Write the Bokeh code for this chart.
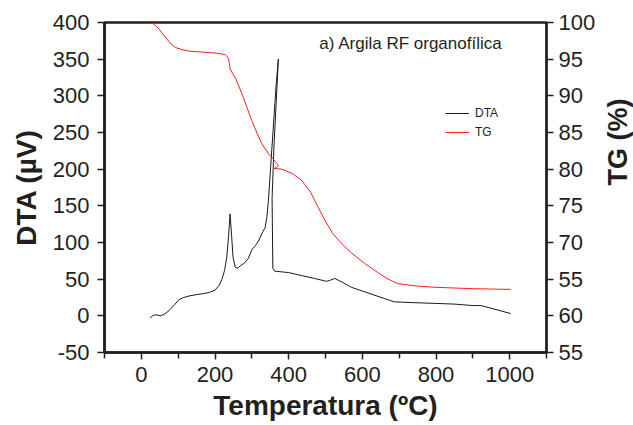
import math
from bokeh.plotting import figure
from bokeh.layouts import row
from bokeh.models import (Range1d, LinearAxis, FixedTicker, Label, Legend, LegendItem)
from bokeh.embed import file_html
from bokeh.resources import INLINE

# DTA curve (temperature in °C, signal in µV)
dta_temp = [24, 32, 39, 52, 62, 75, 90, 102, 115, 129, 150, 165, 185, 200, 212, 219,
            226, 232, 237, 241, 245, 249, 255, 262, 268, 280, 290, 300, 310, 318, 330,
            336, 341, 345, 352, 360, 366, 372, 366, 360, 355, 357, 362, 380, 400, 435,
            470, 503, 515, 525, 545, 570, 605, 640, 687, 740, 795, 850, 900, 922, 960, 1003]
dta_uv = [-2.7, 0.5, 1.5, 0, 2, 7, 15, 22, 25, 27, 29, 30, 32, 35, 42, 50,
          62, 80, 110, 139, 110, 80, 66, 65, 68, 72, 78, 90, 96, 102, 115,
          120, 135, 157, 210, 270, 315, 350, 290, 230, 160, 65, 61, 60, 59, 55,
          51, 47, 49, 51, 46, 39, 33, 27, 19, 18, 17, 16, 14, 14, 9, 3]

# TG curve (temperature in °C, mass in %)
tg_temp = [28, 45, 65, 80, 92, 110, 129, 183, 210, 228, 234, 237, 241, 248, 255, 273,
           300, 315, 327, 345, 358, 366, 372, 368, 360, 381, 410, 435, 460, 480, 500,
           520, 545, 570, 605, 642, 670, 696, 740, 795, 900, 1003]
tg_pct = [100, 99.3, 98.0, 97.1, 96.6, 96.3, 96.1, 95.9, 95.8, 95.6, 95.3, 95.0, 93.7, 93.0, 92.5, 90.3,
          86.6, 84.8, 83.5, 82.1, 81.4, 80.9, 80.5, 80.2, 80.1, 80.0, 79.4, 78.5, 76.8, 74.8, 72.9,
          71.2, 69.8, 68.6, 67.2, 65.9, 65.0, 64.4, 64.1, 63.9, 63.7, 63.6]

x_major = [0, 200, 400, 600, 800, 1000]
x_minor = [-100, 100, 300, 500, 700, 900, 1100]
left_ticks = [-50, 0, 50, 100, 150, 200, 250, 300, 350, 400]
left_overrides = {-50: "-50"}
right_ticks = [55, 60, 65, 70, 75, 80, 85, 90, 95, 100]
right_overrides = {65: "55"}

FONT = "Liberation Sans"
INK = "#231f20"

fig = figure(width=599, height=425, output_backend="svg", toolbar_location=None,
             x_range=Range1d(-100, 1100), y_range=Range1d(-50, 400),
             min_border_left=104, min_border_right=53, min_border_top=22, min_border_bottom=73)
fig.extra_y_ranges = {"tg": Range1d(55, 100)}
fig.grid.visible = False
fig.outline_line_color = INK
fig.outline_line_width = 2.5
fig.background_fill_color = "white"
fig.border_fill_color = "white"

def style_axis(ax, standoff, lw):
    ax.axis_line_color = INK
    ax.axis_line_width = lw
    ax.major_tick_line_color = INK
    ax.major_tick_line_width = 1.5
    ax.minor_tick_line_color = INK
    ax.minor_tick_line_width = 1.5
    ax.major_tick_out = 7
    ax.major_tick_in = 0
    ax.minor_tick_out = 6
    ax.minor_tick_in = 0
    ax.major_label_text_font = FONT
    ax.major_label_text_font_size = "22px"
    ax.major_label_text_color = INK
    ax.major_label_standoff = standoff
    ax.axis_label_text_font = FONT
    ax.axis_label_text_font_size = "28px"
    ax.axis_label_text_font_style = "bold"
    ax.axis_label_text_color = INK

xa = fig.xaxis[0]
xa.ticker = FixedTicker(ticks=x_major, minor_ticks=x_minor)
xa.axis_label = "Temperatura (ºC)"
style_axis(xa, 7, 2.5)
xa.axis_label_standoff = 5

ya = fig.yaxis[0]
ya.ticker = FixedTicker(ticks=left_ticks, minor_ticks=[])
ya.major_label_overrides = left_overrides
ya.axis_label = "DTA (µV)"
style_axis(ya, 8, 2.5)
ya.axis_label_standoff = 8

yr = LinearAxis(y_range_name="tg", ticker=FixedTicker(ticks=right_ticks, minor_ticks=[]),
                major_label_overrides=right_overrides)
style_axis(yr, 5, 2)
fig.add_layout(yr, "right")

r_dta = fig.line(dta_temp, dta_uv, line_color="#1a1a1a", line_width=1)
r_tg = fig.line(tg_temp, tg_pct, y_range_name="tg", line_color="#ff1a1a", line_width=1)

title = Label(x=732, y=372, text="a) Argila RF organofílica", text_font=FONT,
              text_font_size="17px", text_color=INK, text_align="center",
              text_baseline="middle")
fig.add_layout(title)

legend = Legend(items=[LegendItem(label="DTA", renderers=[r_dta]),
                       LegendItem(label="TG", renderers=[r_tg])],
                location=(341, 212), padding=0, margin=0, spacing=3,
                glyph_width=24, glyph_height=16, label_height=16, label_standoff=6,
                label_text_font=FONT, label_text_font_size="12px", label_text_color=INK,
                border_line_color=None, background_fill_alpha=0)
fig.add_layout(legend)

# narrow strip holding the right-axis title, reading bottom-to-top
side = figure(width=34, height=425, output_backend="svg", toolbar_location=None,
              x_range=Range1d(0, 34), y_range=Range1d(0, 425),
              min_border=0, min_border_left=0, min_border_right=0,
              min_border_top=0, min_border_bottom=0)
side.axis.visible = False
side.grid.visible = False
side.outline_line_color = None
side.background_fill_color = "white"
side.border_fill_color = "white"
tg_title = Label(x=18, y=425 - 154, text="TG (%)", angle=90, angle_units="deg",
                 text_font=FONT, text_font_size="27px", text_font_style="bold",
                 text_color=INK, text_align="center", text_baseline="middle")
side.add_layout(tg_title)

p = row(fig, side, spacing=0)

open("out.html", "w").write(file_html(p, INLINE))
